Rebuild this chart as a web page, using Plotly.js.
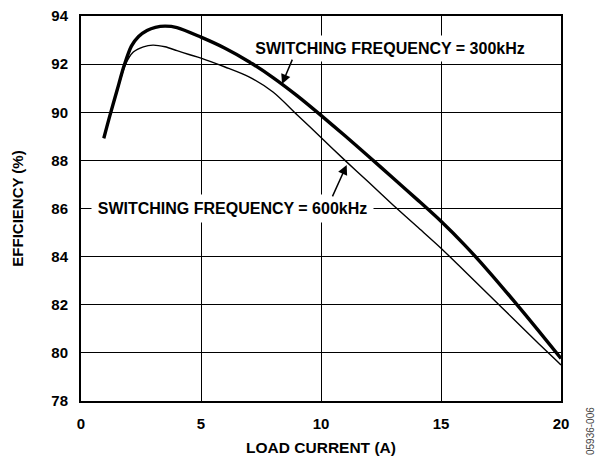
<!DOCTYPE html>
<html>
<head>
<meta charset="utf-8">
<script src="https://cdn.plot.ly/plotly-3.0.1.min.js"></script>
<style>html,body{margin:0;padding:0;background:#fff;}#chart{width:595px;height:456px;}</style>
</head>
<body>
<div id="chart"></div>
<script>
// Load current (A) and efficiency (%)
const current300 = [0.95, 1.2, 1.5, 1.8, 2.1, 2.4, 2.75, 3.1, 3.5, 4, 5, 6, 7, 8, 9, 10, 11, 12, 13, 14, 15, 16, 17, 18, 19, 20];
const eff300     = [88.92, 89.85, 90.9, 91.95, 92.75, 93.15, 93.4, 93.53, 93.58, 93.52, 93.12, 92.66, 92.1, 91.44, 90.69, 89.87, 89.02, 88.15, 87.27, 86.38, 85.47, 84.47, 83.37, 82.2, 81.0, 79.77];
const current600 = [0.95, 1.2, 1.5, 1.84, 2.18, 2.6, 3.0, 3.5, 4, 4.5, 5, 6, 7, 8, 9, 10, 11, 12, 13, 14, 15, 16, 17, 18, 19, 20];
const eff600     = [88.92, 89.85, 90.85, 91.96, 92.5, 92.72, 92.79, 92.72, 92.56, 92.4, 92.25, 91.88, 91.47, 90.84, 89.9, 88.95, 88.0, 87.08, 86.15, 85.25, 84.35, 83.38, 82.4, 81.43, 80.45, 79.5];
const xTicks = [0, 5, 10, 15, 20];
const yTicks = [78, 80, 82, 84, 86, 88, 90, 92, 94];
const label300 = "SWITCHING FREQUENCY = 300kHz";
const label600 = "SWITCHING FREQUENCY = 600kHz";
const xTitle = "LOAD CURRENT (A)";
const yTitle = "EFFICIENCY (%)";
const figCode = "05936-006";

const FONT = "Arial, 'Liberation Sans', Helvetica, sans-serif";

const traces = [
  {x: current300, y: eff300, mode: 'lines', line: {color: '#000', width: 3.4, shape: 'spline', smoothing: 0.8}, hoverinfo: 'skip', showlegend: false},
  {x: current600, y: eff600, mode: 'lines', line: {color: '#000', width: 1.4, shape: 'spline', smoothing: 0.8}, hoverinfo: 'skip', showlegend: false}
];

const layout = {
  width: 595, height: 456,
  margin: {l: 81, r: 34, t: 16, b: 55},
  paper_bgcolor: '#fff', plot_bgcolor: '#fff',
  font: {family: FONT, color: '#000'},
  showlegend: false,
  xaxis: {
    range: [0, 20], tickvals: xTicks, ticktext: xTicks.map(String),
    showgrid: true, gridcolor: '#000', gridwidth: 1, zeroline: false,
    showline: true, linecolor: '#000', linewidth: 2, mirror: true,
    ticks: '', ticklabelstandoff: 8,
    tickfont: {family: FONT, size: 15, weight: 'bold', color: '#000'},
    title: {text: xTitle, font: {family: FONT, size: 15.5, weight: 'bold', color: '#000'}, standoff: 14}
  },
  yaxis: {
    range: [78, 94], tickvals: yTicks, ticktext: yTicks.map(String),
    showgrid: true, gridcolor: '#000', gridwidth: 1, zeroline: false,
    showline: true, linecolor: '#000', linewidth: 2, mirror: true,
    ticks: '', ticklabelstandoff: 8,
    tickfont: {family: FONT, size: 15, weight: 'bold', color: '#000'},
    title: {text: yTitle, font: {family: FONT, size: 15, weight: 'bold', color: '#000'}, standoff: 24}
  },
  annotations: [
    {xref: 'x', yref: 'y', x: 12.875, y: 92.63, text: label300, showarrow: false,
     font: {family: FONT, size: 16, weight: 'bold', color: '#000'}, bgcolor: '#fff', width: 276, height: 25, borderpad: 0},
    {xref: 'x', yref: 'y', x: 6.31, y: 85.98, text: label600, showarrow: false,
     font: {family: FONT, size: 16, weight: 'bold', color: '#000'}, bgcolor: '#fff', width: 281, height: 27, borderpad: 0},
    {xref: 'x', yref: 'y', axref: 'x', ayref: 'y', x: 8.375, y: 91.17, ax: 8.83, ay: 92.25, text: '',
     showarrow: true, arrowhead: 2, arrowsize: 1.3, arrowwidth: 1.5, arrowcolor: '#000', standoff: 0, startstandoff: 0},
    {xref: 'x', yref: 'y', axref: 'x', ayref: 'y', x: 11.07, y: 87.81, ax: 10.45, ay: 86.44, text: '',
     showarrow: true, arrowhead: 2, arrowsize: 1.3, arrowwidth: 1.5, arrowcolor: '#000', standoff: 0, startstandoff: 0},
    {xref: 'paper', yref: 'paper', x: 1.0604, y: -0.078, xanchor: 'center', yanchor: 'middle', text: figCode, textangle: -90,
     showarrow: false, font: {family: FONT, size: 10, color: '#444'}}
  ]
};

Plotly.newPlot('chart', traces, layout, {staticPlot: true, displayModeBar: false});
</script>
</body>
</html>
